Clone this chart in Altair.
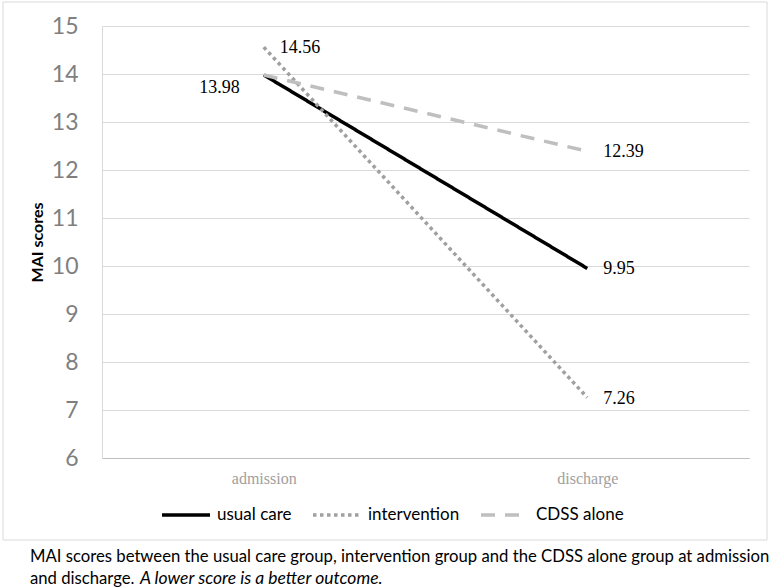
import altair as alt
import pandas as pd

times = ["admission", "discharge"]
groups = ["usual care", "intervention", "CDSS alone"]
usual_care = [13.98, 9.95]
intervention = [14.56, 7.26]
cdss_alone = [13.98, 12.39]
y_ticks = [6, 7, 8, 9, 10, 11, 12, 13, 14, 15]

caption_line1 = "MAI scores between the usual care group, intervention group and the CDSS alone group at admission"
caption_line2a = "and discharge."
caption_line2b = "A lower score is a better outcome."

rows = []
for g, vals in zip(groups, [usual_care, intervention, cdss_alone]):
    for t, v in zip(times, vals):
        rows.append({"time": t, "group": g, "score": v, "label": f"{v:.2f}"})
df = pd.DataFrame(rows)

SANS = "Lato"
SERIF = "Liberation Serif"

x_enc = alt.X("time:N", sort=times, scale=alt.Scale(type="point", padding=0.5),
              axis=alt.Axis(title=None, labelAngle=0, labelFont=SERIF, labelFontSize=16,
                            labelColor="#a0a0a0", ticks=False, domainColor="#bfbfbf",
                            labelPadding=12, grid=False))
y_enc = alt.Y("score:Q", scale=alt.Scale(domain=[6, 15], nice=False, zero=False),
              axis=alt.Axis(title="MAI scores", values=y_ticks, labelFont=SANS, labelFontSize=23,
                            labelColor="#7f7f7f", ticks=False, labelPadding=24,
                            domainColor="#d9d9d9", gridColor="#d9d9d9",
                            titleFont=SANS, titleFontSize=16, titleFontWeight="bold",
                            titleColor="#000000", titlePadding=6))

legend_opts = dict(title=None, orient="none", direction="horizontal",
                   legendX=58, legendY=463, symbolType="stroke",
                   symbolSize=2304, symbolStrokeWidth=3.5,
                   labelFont=SANS, labelFontSize=17, labelColor="#000000",
                   labelOffset=5, columnPadding=14, padding=0)

base = alt.Chart(df)

lines = base.mark_line(strokeWidth=3.5, strokeCap="butt").encode(
    x=x_enc,
    y=y_enc,
    color=alt.Color("group:N", sort=groups,
                    scale=alt.Scale(domain=groups, range=["#000000", "#a0a0a0", "#bfbfbf"]),
                    legend=alt.Legend(**legend_opts)),
    strokeDash=alt.StrokeDash("group:N", sort=groups,
                              scale=alt.Scale(domain=groups, range=[[1, 0], [3.5, 3.5], [14, 10]]),
                              legend=alt.Legend(**legend_opts)),
    order=alt.Order("time:N"),
)

labels_right = base.transform_filter(
    "!(datum.time == 'admission' && (datum.group == 'usual care' || datum.group == 'CDSS alone'))"
).mark_text(align="left", baseline="middle", dx=16, dy=1, font=SERIF, fontSize=18, color="#000000").encode(
    x=alt.X("time:N", sort=times), y="score:Q", text="label:N")

labels_left = base.transform_filter(
    "datum.time == 'admission' && datum.group == 'usual care'"
).mark_text(align="right", baseline="middle", dx=-24, dy=13, font=SERIF, fontSize=18, color="#000000").encode(
    x=alt.X("time:N", sort=times), y="score:Q", text="label:N")

frame = alt.Chart(pd.DataFrame({"a": [0]})).mark_rect(fill=None, stroke="#d9d9d9", strokeWidth=1).encode(
    x=alt.value(-99), x2=alt.value(665), y=alt.value(-24), y2=alt.value(514))

cap1 = alt.Chart(pd.DataFrame({"t": [caption_line1]})).mark_text(
    align="left", baseline="alphabetic", font=SANS, fontSize=16.7, color="#000000").encode(
    x=alt.value(-72), y=alt.value(536), text="t:N")
cap2a = alt.Chart(pd.DataFrame({"t": [caption_line2a]})).mark_text(
    align="left", baseline="alphabetic", font=SANS, fontSize=16.7, color="#000000").encode(
    x=alt.value(-72), y=alt.value(558), text="t:N")
cap2b = alt.Chart(pd.DataFrame({"t": [caption_line2b]})).mark_text(
    align="left", baseline="alphabetic", font=SANS, fontSize=17.5, fontStyle="italic", color="#000000").encode(
    x=alt.value(38), y=alt.value(558), text="t:N")

chart = alt.layer(frame, lines, labels_right, labels_left, cap1, cap2a, cap2b).properties(
    width=647, height=432,
    padding={"left": 102, "top": 26, "right": 22, "bottom": 130},
    autosize=alt.AutoSizeParams(type="none"),
    background="#ffffff",
).configure_view(stroke=None).configure_axis(gridWidth=1)

chart.save("out.html", embed_options={"renderer": "svg", "actions": False})
